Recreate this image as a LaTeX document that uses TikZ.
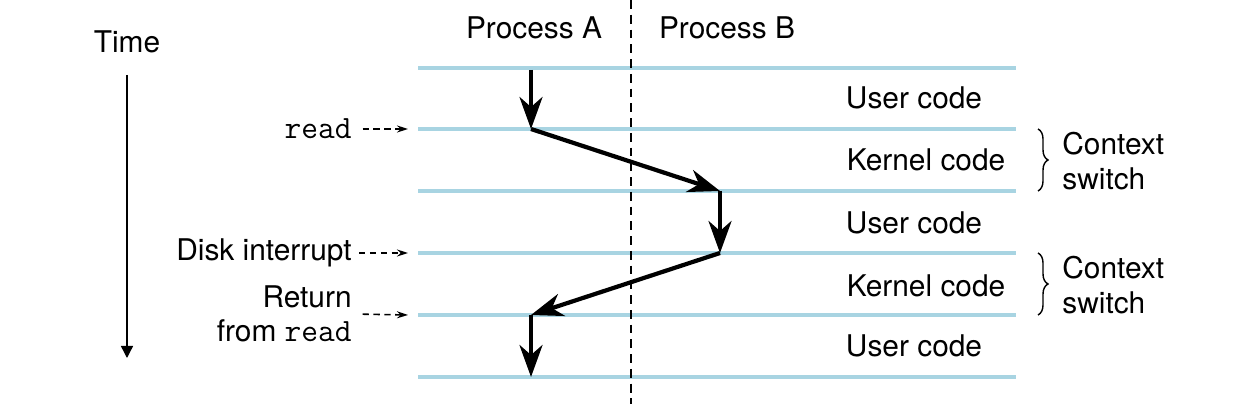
\documentclass[tikz,border=0pt]{standalone}
\usepackage{fontspec}
\setmainfont{TeX Gyre Heros}
\usepackage{xcolor}
\usetikzlibrary{arrows.meta}
\usetikzlibrary{decorations.pathreplacing,positioning}
\definecolor{levelblue}{HTML}{A8D4E2}
\newcommand{\sysc}[1]{{\fontsize{18.5}{19.5}\ttfamily #1}}

\begin{document}
\begin{tikzpicture}[x=0.02cm,y=-0.02cm]
  \tikzset{lbl/.style = {font=\fontsize{17}{19.5}\selectfont, inner sep=0pt}}
  \tikzset{level/.style = {draw=levelblue, line width=2.1pt}}
  \tikzset{flow/.style = {line width=2.4pt, -{Stealth[length=0.64cm,width=0.46cm,inset=0.2cm]}}}
  \tikzset{ptr/.style = {line width=0.9pt, dash pattern=on 3.6pt off 2.6pt, -{Stealth[length=0.22cm,width=0.14cm]}}}
  \tikzset{cbrace/.style = {decorate, decoration={brace,amplitude=0.2cm}, line width=0.8pt}}

  \useasboundingbox (0,0) rectangle (1256,404);

  % time line levels
  \foreach \n/\y in {0/68,1/129,2/191,3/253,4/315,5/377}{
    \coordinate (s\n) at (418,\y);
    \coordinate (e\n) at (1016,\y);
    \draw[level] (s\n) -- (e\n);
  }

  % process boundary
  \coordinate (top) at (631,0);
  \coordinate (bot) at (631,404);
  \draw[line width=0.8pt, dash pattern=on 5pt off 3.4pt] (top) -- (bot);

  \node[lbl] (PA) at (534,28) {Process A};
  \node[lbl] (PB) at (727,28) {Process B};

  % time axis
  \node[lbl] (time) at (127,42) {Time};
  \coordinate (tstart) at (127,75);
  \coordinate (tend) at (127,358);
  \draw[line width=0.8pt, -{Triangle[length=0.24cm,width=0.24cm]}] (tstart) -- (tend);

  % control flow
  \coordinate (A0) at (531,70);
  \coordinate (A1) at (531,129);
  \coordinate (B2) at (720,191);
  \coordinate (B3) at (720,253);
  \coordinate (A4) at (531,315);
  \coordinate (A5) at (531,377);
  \foreach \from/\to in {A0/A1,A1/B2,B2/B3,B3/A4,A4/A5}
    \draw[flow] (\from) -- (\to);

  % code regions
  \node[lbl] (U1) at (914,98) {User code};
  \node[lbl] (K1) at (926,160) {Kernel code};
  \node[lbl] (U2) at (914,223) {User code};
  \node[lbl] (K2) at (926,286) {Kernel code};
  \node[lbl] (U3) at (914,346) {User code};

  % context switches
  \coordinate (b1t) at (1038,129);
  \coordinate (b1b) at (1038,191);
  \coordinate (b2t) at (1038,253);
  \coordinate (b2b) at (1038,315);
  \draw[cbrace] (b1t) -- (b1b);
  \draw[cbrace] (b2t) -- (b2b);
  \node[lbl, align=left, anchor=west] (cs1) at (1062,161) {Context\\switch};
  \node[lbl, align=left, anchor=west] (cs2) at (1062,285) {Context\\switch};

  % events
  \node[lbl, anchor=east] (rd) at (352,129) {\sysc{read}};
  \node[lbl, anchor=east] (disk) at (352,253) {Disk interrupt};
  \node[lbl, anchor=east, align=right] (ret) at (352,314) {Return\\from \sysc{read}};
  \draw[ptr, shorten <=6pt] (rd.east) -- ([xshift=-0.2cm]s1);
  \draw[ptr, shorten <=4pt] (disk.east) -- ([xshift=-0.2cm]s3);
  \draw[ptr, shorten <=6pt] (ret.east) -- ([xshift=-0.2cm]s4);
\end{tikzpicture}
\end{document}
